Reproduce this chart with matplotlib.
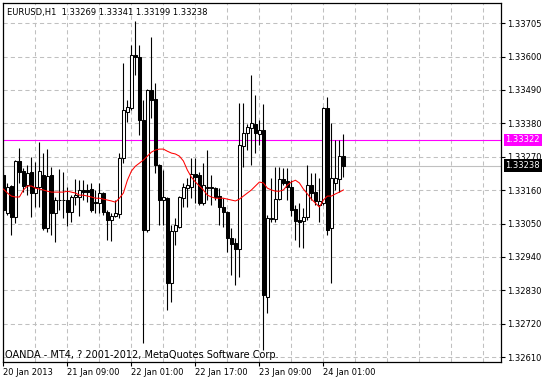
import numpy as np
import matplotlib.pyplot as plt
from matplotlib.transforms import blended_transform_factory

# EURUSD H1 bars
opens = [1.33207, 1.33082, 1.33171, 1.33069, 1.33253, 1.33220, 1.33174, 1.33217, 1.33148, 1.33167,
         1.33207, 1.33033, 1.33207, 1.33082, 1.33125, 1.33125, 1.33125, 1.33085, 1.33135, 1.33135,
         1.33158, 1.33158, 1.33161, 1.33118, 1.33115, 1.33148, 1.33085, 1.33059, 1.33072, 1.33079,
         1.33262, 1.33413, 1.33426, 1.33600, 1.33594, 1.33387, 1.33027, 1.33485, 1.33456, 1.33240,
         1.33125, 1.33131, 1.32853, 1.33023, 1.33036, 1.33131, 1.33164, 1.33167, 1.33210, 1.33207,
         1.33115, 1.33164, 1.33167, 1.33164, 1.33138, 1.33102, 1.33085, 1.33000, 1.32984, 1.32964,
         1.33302, 1.33344, 1.33361, 1.33374, 1.33341, 1.33354, 1.32807, 1.33062, 1.33062, 1.33128,
         1.33194, 1.33187, 1.33167, 1.33095, 1.33059, 1.33056, 1.33069, 1.33174, 1.33151, 1.33108,
         1.33115, 1.33426, 1.33033, 1.33181, 1.33194, 1.33269]
highs = [1.33230, 1.33181, 1.33174, 1.33256, 1.33295, 1.33230, 1.33240, 1.33266, 1.33249, 1.33315,
         1.33279, 1.33292, 1.33233, 1.33135, 1.33226, 1.33217, 1.33167, 1.33141, 1.33194, 1.33190,
         1.33190, 1.33177, 1.33181, 1.33158, 1.33181, 1.33151, 1.33092, 1.33082, 1.33125, 1.33279,
         1.33574, 1.33453, 1.33633, 1.33712, 1.33633, 1.33453, 1.33488, 1.33659, 1.33508, 1.33243,
         1.33223, 1.33135, 1.33043, 1.33066, 1.33138, 1.33181, 1.33197, 1.33262, 1.33262, 1.33217,
         1.33246, 1.33289, 1.33207, 1.33167, 1.33164, 1.33131, 1.33088, 1.33033, 1.33000, 1.33443,
         1.33443, 1.33374, 1.33535, 1.33469, 1.33387, 1.33440, 1.33076, 1.33197, 1.33233, 1.33233,
         1.33230, 1.33230, 1.33190, 1.33108, 1.33115, 1.33099, 1.33240, 1.33213, 1.33213, 1.33197,
         1.33430, 1.33462, 1.33377, 1.33322, 1.33322, 1.33341]
lows = [1.33053, 1.33076, 1.33010, 1.33049, 1.33181, 1.33151, 1.33141, 1.33069, 1.33102, 1.33102,
        1.33027, 1.33020, 1.33010, 1.32987, 1.33092, 1.33066, 1.33040, 1.33053, 1.33108, 1.33072,
        1.33125, 1.33118, 1.33085, 1.33082, 1.33082, 1.33076, 1.32994, 1.32990, 1.33069, 1.33066,
        1.33246, 1.33381, 1.33420, 1.33535, 1.33338, 1.32656, 1.33020, 1.33394, 1.33213, 1.33043,
        1.33043, 1.32764, 1.32790, 1.32977, 1.33033, 1.33102, 1.33102, 1.33131, 1.33115, 1.33108,
        1.33108, 1.33125, 1.33108, 1.33125, 1.33043, 1.33036, 1.32954, 1.32879, 1.32846, 1.32872,
        1.33233, 1.33289, 1.33240, 1.33279, 1.33305, 1.32633, 1.32754, 1.33053, 1.33053, 1.33125,
        1.33174, 1.33125, 1.33072, 1.32994, 1.32971, 1.32967, 1.33059, 1.33125, 1.33108, 1.33053,
        1.33108, 1.33010, 1.32853, 1.33158, 1.33151, 1.33199]
closes = [1.33092, 1.33167, 1.33069, 1.33253, 1.33217, 1.33171, 1.33213, 1.33148, 1.33167, 1.33220,
          1.33033, 1.33203, 1.33082, 1.33125, 1.33126, 1.33124, 1.33085, 1.33135, 1.33141, 1.33158,
          1.33151, 1.33151, 1.33092, 1.33115, 1.33148, 1.33085, 1.33059, 1.33072, 1.33082, 1.33262,
          1.33420, 1.33430, 1.33600, 1.33594, 1.33387, 1.33027, 1.33485, 1.33453, 1.33240, 1.33125,
          1.33135, 1.32853, 1.33023, 1.33043, 1.33135, 1.33167, 1.33174, 1.33210, 1.33200, 1.33115,
          1.33174, 1.33167, 1.33164, 1.33135, 1.33102, 1.33085, 1.33000, 1.32981, 1.32964, 1.33305,
          1.33344, 1.33364, 1.33377, 1.33344, 1.33354, 1.32813, 1.33066, 1.33066, 1.33128, 1.33194,
          1.33181, 1.33167, 1.33092, 1.33056, 1.33053, 1.33069, 1.33174, 1.33148, 1.33122, 1.33122,
          1.33426, 1.33027, 1.33197, 1.33197, 1.33269, 1.33238]
ma_values = [1.33161, 1.33148, 1.33138, 1.33135, 1.33135, 1.33158, 1.33171, 1.33171, 1.33164, 1.33161,
             1.33158, 1.33154, 1.33151, 1.33151, 1.33151, 1.33151, 1.33154, 1.33151, 1.33148, 1.33141,
             1.33141, 1.33138, 1.33135, 1.33131, 1.33131, 1.33128, 1.33125, 1.33122, 1.33118, 1.33131,
             1.33148, 1.33190, 1.33220, 1.33236, 1.33246, 1.33256, 1.33269, 1.33282, 1.33289, 1.33292,
             1.33292, 1.33285, 1.33279, 1.33276, 1.33269, 1.33253, 1.33223, 1.33200, 1.33184, 1.33171,
             1.33158, 1.33141, 1.33135, 1.33131, 1.33131, 1.33131, 1.33128, 1.33125, 1.33122, 1.33128,
             1.33138, 1.33148, 1.33158, 1.33171, 1.33184, 1.33181, 1.33164, 1.33158, 1.33154, 1.33154,
             1.33158, 1.33174, 1.33184, 1.33190, 1.33181, 1.33161, 1.33145, 1.33128, 1.33115, 1.33102,
             1.33125, 1.33138, 1.33138, 1.33145, 1.33151, 1.33158]

y_tick_labels = ['1.32610', '1.32720', '1.32830', '1.32940', '1.33050', '1.33160',
                 '1.33270', '1.33380', '1.33490', '1.33600', '1.33705']
x_tick_bars = [0, 16, 32, 48, 64, 80]
x_tick_labels = ['20 Jan 2013', '21 Jan 09:00', '22 Jan 01:00', '22 Jan 17:00',
                 '23 Jan 09:00', '24 Jan 01:00']
title_text = 'EURUSD,H1  1.33269 1.33341 1.33199 1.33238'
footer_text = 'OANDA - MT4, ? 2001-2012, MetaQuotes Software Corp.'
ask_level = 1.33322
bid_level = 1.33238

plt.rcParams['font.family'] = ['DejaVu Sans']
plt.rcParams['font.size'] = 6

o = np.array(opens)
h = np.array(highs)
l = np.array(lows)
c = np.array(closes)
x = np.arange(len(o))
bull = c >= o

fig = plt.figure(figsize=(5.42, 3.79), dpi=100)
ax = fig.add_axes([3 / 542, 17 / 379, 498 / 542, 359 / 379])
ax.set_xlim(-0.1, 124.4)
ax.set_ylim(1.32594, 1.33771)

grid_style = dict(color='#c0c0c0', lw=0.75, dashes=(4, 3), zorder=0)
for gx in range(8, 125, 8):
    ax.axvline(gx, **grid_style)
y_ticks = np.linspace(1.32610, 1.33705, len(y_tick_labels))
for gy in y_ticks:
    ax.axhline(gy, **grid_style)

ax.axhline(ask_level, color='#ff00ff', lw=0.8, zorder=1)
ax.axhline(bid_level, color='#c0c0c0', lw=0.8, zorder=1)

# candles
ax.vlines(x, l, h, color='black', lw=0.8, zorder=2)
ax.bar(x, np.maximum(np.abs(c - o), 1e-6), bottom=np.minimum(o, c), width=0.6,
       color=np.where(bull, 'white', 'black'), edgecolor='black', linewidth=0.75, zorder=3)
ax.plot(x, ma_values, color='red', lw=0.75, zorder=4)

ax.yaxis.tick_right()
ax.set_yticks(y_ticks)
ax.set_yticklabels(y_tick_labels)
ax.tick_params(axis='y', length=3, width=0.8, pad=1.5, labelsize=6)
ax.set_xticks(x_tick_bars)
ax.set_xticklabels(x_tick_labels)
ax.tick_params(axis='x', length=3, width=0.8, pad=1, labelsize=6)
for lab in ax.get_xticklabels():
    lab.set_ha('left')
for sp in ax.spines.values():
    sp.set_linewidth(0.9)

trans = blended_transform_factory(ax.transAxes, ax.transData)
ax.text(1.009, ask_level, '1.33322', transform=trans, va='center', ha='left', color='white',
        fontsize=6, bbox=dict(facecolor='#ff00ff', edgecolor='none', pad=1.2), clip_on=False)
ax.text(1.009, bid_level, '1.33238', transform=trans, va='center', ha='left', color='white',
        fontsize=6, bbox=dict(facecolor='black', edgecolor='none', pad=1.2), clip_on=False)

fig.text(7 / 542, 1 - 12 / 379, title_text, va='center', ha='left', fontsize=6)
fig.text(5 / 542, 1 - 355 / 379, footer_text, va='center', ha='left', fontsize=7)

fig.savefig('out.png', dpi=100)
